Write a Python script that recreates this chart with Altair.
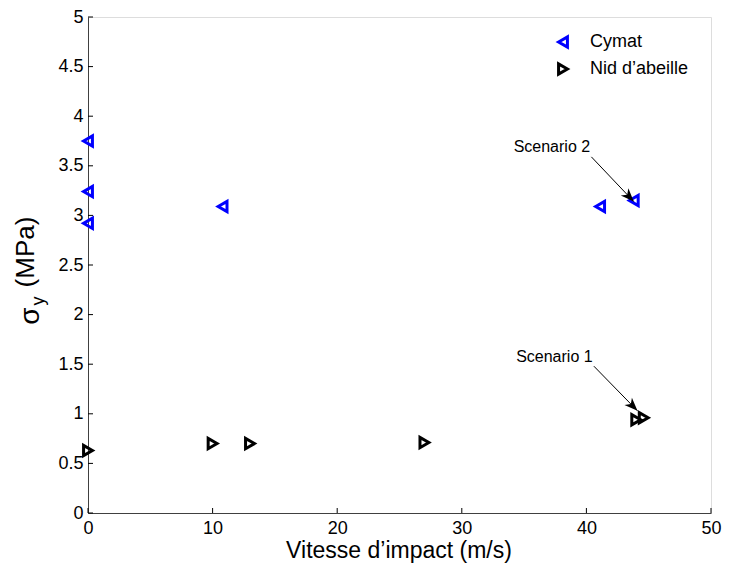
import altair as alt
import pandas as pd

# ---- data ----
cymat_x = [0, 0, 0, 10.8, 41.1, 43.8]
cymat_y = [3.75, 3.24, 2.92, 3.09, 3.09, 3.15]
nid_x = [0, 10.0, 13.0, 27.0, 44.0, 44.6]
nid_y = [0.63, 0.70, 0.70, 0.71, 0.94, 0.96]
series_names = ["Cymat", "Nid d\u2019abeille"]
series_colors = ["#0000ff", "#000000"]
series_shapes = ["triangle-left", "triangle-right"]

x_ticks = [0, 10, 20, 30, 40, 50]
y_ticks = [0, 0.5, 1, 1.5, 2, 2.5, 3, 3.5, 4, 4.5, 5]

ann_text = ["Scenario 2", "Scenario 1"]
ann_tx = [40.3, 40.5]
ann_ty = [3.69, 1.57]
arrow_x1 = [40.4, 40.6]
arrow_y1 = [3.59, 1.48]
arrow_x2 = [43.8, 44.1]
arrow_y2 = [3.14, 1.03]
arrow_angle = [136.4, 135.6]

W, H = 623, 496

pts = pd.DataFrame({
    "x": cymat_x + nid_x,
    "y": cymat_y + nid_y,
    "series": [series_names[0]] * len(cymat_x) + [series_names[1]] * len(nid_x),
})
ann = pd.DataFrame({"text": ann_text, "tx": ann_tx, "ty": ann_ty,
                    "x1": arrow_x1, "y1": arrow_y1, "x2": arrow_x2, "y2": arrow_y2,
                    "ang": arrow_angle})

xs = alt.Scale(domain=[0, 50], nice=False, zero=False)
ys = alt.Scale(domain=[0, 5], nice=False, zero=False)

FONT = "Liberation Sans"
axis_common = dict(grid=False, ticks=False, domainColor="#404040", domainWidth=1,
                   labelFont=FONT, labelFontSize=18, labelColor="#000000", title=None,
                   labelFlush=False, labelOverlap=False)

points = alt.Chart(pts).mark_point(filled=False, strokeWidth=3, size=105, opacity=1).encode(
    x=alt.X("x:Q", scale=xs, axis=alt.Axis(values=x_ticks, labelPadding=6, **axis_common)),
    y=alt.Y("y:Q", scale=ys, axis=alt.Axis(values=y_ticks, labelPadding=5,
                                           labelExpr="datum.value", **axis_common)),
    color=alt.Color("series:N", scale=alt.Scale(domain=series_names, range=series_colors),
                    legend=alt.Legend(title=None, orient="none", legendX=466, legendY=16,
                                      labelFont=FONT, labelFontSize=18, labelColor="#000000",
                                      symbolSize=105, symbolStrokeWidth=3, rowPadding=3,
                                      labelOffset=18, padding=0)),
    shape=alt.Shape("series:N", scale=alt.Scale(domain=series_names, range=series_shapes)),
)

ytick_df = pd.DataFrame({"v": y_ticks})
xtick_df = pd.DataFrame({"v": x_ticks})
yticks = alt.Chart(ytick_df).mark_rule(color="#000000", strokeWidth=1).encode(
    y=alt.Y("v:Q", scale=ys), x=alt.value(0), x2=alt.value(5))
xticks = alt.Chart(xtick_df).mark_rule(color="#000000", strokeWidth=1).encode(
    x=alt.X("v:Q", scale=xs), y=alt.value(H), y2=alt.value(H - 5))

arrows = alt.Chart(ann).mark_rule(color="#000000", strokeWidth=1).encode(
    x=alt.X("x1:Q", scale=xs), y=alt.Y("y1:Q", scale=ys),
    x2="x2:Q", y2="y2:Q")
heads = alt.Chart(ann).mark_point(
    shape="M0,0 L-1.1,2.8 L0,2 L1.1,2.8 Z", filled=True, color="#000000", size=90, opacity=1
).encode(x=alt.X("x2:Q", scale=xs), y=alt.Y("y2:Q", scale=ys), angle=alt.Angle("ang:Q", scale=None))
labels = alt.Chart(ann).mark_text(align="right", baseline="middle", font=FONT, fontSize=16,
                                  color="#000000").encode(
    x=alt.X("tx:Q", scale=xs), y=alt.Y("ty:Q", scale=ys), text="text:N")

title_df = pd.DataFrame({"t": ["Vitesse d\u2019impact (m/s)"]})
xtitle = alt.Chart(title_df).mark_text(font=FONT, fontSize=23, baseline="alphabetic",
                                       color="#000000").encode(
    x=alt.value(311), y=alt.value(541), text="t:N")

yt_df = pd.DataFrame({"t": ["\u03c3", "y", "(MPa)"],
                      "px": [-57, -49, -62], "py": [299, 284, 235], "fs": [28, 18, 26]})
ytitle = alt.Chart(yt_df).mark_text(font=FONT, angle=270, baseline="middle", align="center",
                                    color="#000000").encode(
    x=alt.X("px:Q", scale=None), y=alt.Y("py:Q", scale=None), text="t:N",
    size=alt.Size("fs:Q", scale=None, legend=None))

chart = alt.layer(points, yticks, xticks, arrows, heads, labels, xtitle, ytitle).properties(
    width=W, height=H,
    autosize=alt.AutoSizeParams(type="none"),
    padding={"left": 80, "top": 9, "right": 11, "bottom": 50},
).configure_view(stroke=None).configure(background="#ffffff")

chart.save("out.html", embed_options={"renderer": "svg", "actions": False})
